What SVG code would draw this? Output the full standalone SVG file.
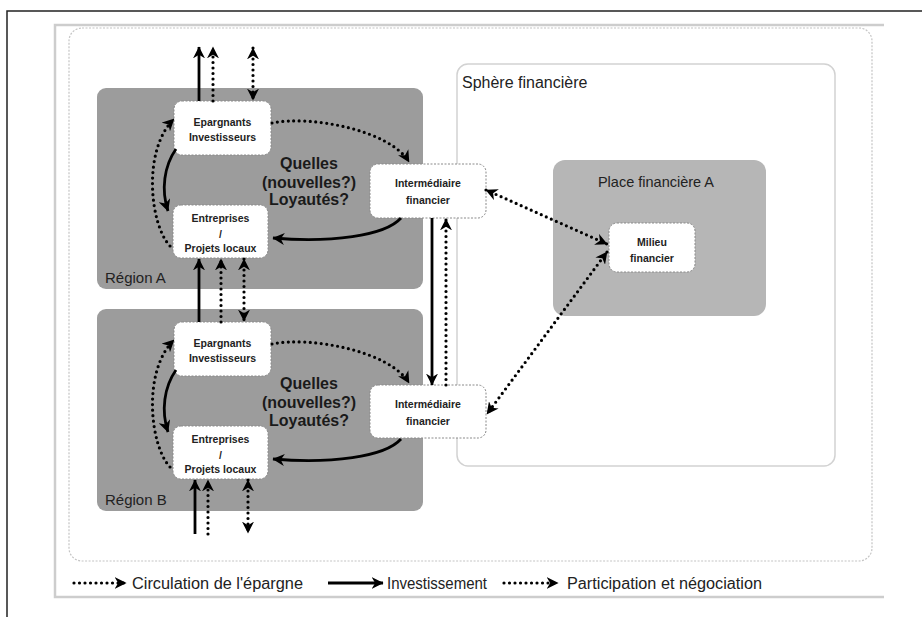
<svg xmlns="http://www.w3.org/2000/svg" width="922" height="617" viewBox="0 0 922 617">
<defs>
<style>
.frame{fill:none;stroke:#222;stroke-width:1.5}
.outer{fill:none;stroke:#cdcdcd;stroke-width:2.5}
.inner{fill:#fff;stroke:#c4c4c4;stroke-width:1.2;stroke-dasharray:2 1.5}
.region{fill:#9c9c9c}
.place{fill:#b6b6b6}
.sphere{fill:#fff;stroke:#d2d2d2;stroke-width:1.5}
.node{fill:#fff;stroke:#8a8a8a;stroke-width:1;stroke-dasharray:2 1.5}
.nt{font-family:"Liberation Sans",Arial,sans-serif;font-size:10.5px;font-weight:bold;fill:#222;text-anchor:middle}
.q{font-family:"Liberation Sans",Arial,sans-serif;font-size:16px;font-weight:bold;fill:#1a1a1a;text-anchor:middle}
.lbl{font-family:"Liberation Sans",Arial,sans-serif;fill:#222}
.leg{font-family:"Liberation Sans",Arial,sans-serif;font-size:16px;fill:#222}
.solid{fill:none;stroke:#000;stroke-width:2.8}
.dot{fill:none;stroke:#000;stroke-width:3.2;stroke-linecap:round;stroke-dasharray:0 5.5}
</style>
<marker id="ah" viewBox="0 0 10 10" refX="9.5" refY="5" markerWidth="12" markerHeight="12" markerUnits="userSpaceOnUse" orient="auto-start-reverse">
<path d="M0,0 L10,5 L0,10 L3,5 z" fill="#000"/>
</marker>
</defs>

<g id="page-frame">
<path class="frame" d="M7,617 L7,11 L922,11"/>
<path class="outer" d="M884,25 L55,25 L55,597 L884,597"/>
<rect class="inner" x="69" y="28" width="803" height="533" rx="13"/>
</g>

<g id="region-a">
<rect class="region" x="97" y="88" width="326" height="201" rx="9"/>
<text class="lbl" x="105" y="283" font-size="15">Région A</text>
</g>
<g id="region-b">
<rect class="region" x="97" y="309" width="326" height="202" rx="9"/>
<text class="lbl" x="105" y="505" font-size="15">Région B</text>
</g>

<g id="sphere-financiere">
<rect class="sphere" x="457" y="64" width="378" height="402" rx="11"/>
<text class="lbl" x="462" y="88" font-size="16">Sphère financière</text>
</g>
<g id="place-financiere-a">
<rect class="place" x="553" y="160" width="213" height="156" rx="12"/>
<text class="lbl" x="656" y="187" font-size="14.5" text-anchor="middle">Place financière A</text>
</g>

<g id="epargnants-a">
<rect class="node" x="174" y="101" width="97" height="54" rx="8"/>
<text class="nt" x="222.5" y="126">Epargnants</text>
<text class="nt" x="222.5" y="141">Investisseurs</text>
</g>
<g id="entreprises-a">
<rect class="node" x="173" y="205" width="95" height="53" rx="8"/>
<text class="nt" x="220.5" y="222">Entreprises</text>
<text class="nt" x="220.5" y="238">/</text>
<text class="nt" x="220.5" y="252">Projets locaux</text>
</g>
<g id="intermediaire-a">
<rect class="node" x="370" y="164" width="116" height="54" rx="8"/>
<text class="nt" x="428" y="187">Intermédiaire</text>
<text class="nt" x="428" y="204">financier</text>
</g>
<g id="loyautes-a">
<text class="q" x="309" y="169">Quelles</text>
<text class="q" x="309" y="187.5">(nouvelles?)</text>
<text class="q" x="309" y="205">Loyautés?</text>
</g>

<g id="epargnants-b">
<rect class="node" x="174" y="322" width="97" height="54" rx="8"/>
<text class="nt" x="222.5" y="347">Epargnants</text>
<text class="nt" x="222.5" y="362">Investisseurs</text>
</g>
<g id="entreprises-b">
<rect class="node" x="173" y="426" width="95" height="53" rx="8"/>
<text class="nt" x="220.5" y="443">Entreprises</text>
<text class="nt" x="220.5" y="459">/</text>
<text class="nt" x="220.5" y="473">Projets locaux</text>
</g>
<g id="intermediaire-b">
<rect class="node" x="370" y="385" width="116" height="53" rx="8"/>
<text class="nt" x="428" y="408">Intermédiaire</text>
<text class="nt" x="428" y="425">financier</text>
</g>
<g id="loyautes-b">
<text class="q" x="309" y="389">Quelles</text>
<text class="q" x="309" y="408">(nouvelles?)</text>
<text class="q" x="309" y="426">Loyautés?</text>
</g>

<g id="milieu-financier">
<rect class="node" x="609" y="223" width="86" height="49" rx="8"/>
<text class="nt" x="652" y="246">Milieu</text>
<text class="nt" x="652" y="262">financier</text>
</g>

<g id="connectors">
<!-- Region A outgoing top -->
<path class="solid" d="M199,101 L199,47" marker-end="url(#ah)"/>
<path class="dot" d="M213,101 L213,47" marker-end="url(#ah)"/>
<path class="dot" d="M253,48 L253,100" marker-start="url(#ah)" marker-end="url(#ah)"/>
<!-- Between regions -->
<path class="solid" d="M199,322 L199,259" marker-end="url(#ah)"/>
<path class="dot" d="M221,322 L221,259" marker-end="url(#ah)"/>
<path class="dot" d="M244,259 L244,321" marker-start="url(#ah)" marker-end="url(#ah)"/>
<!-- Region B incoming bottom -->
<path class="solid" d="M195,534 L195,480" marker-end="url(#ah)"/>
<path class="dot" d="M208,534 L208,480" marker-end="url(#ah)"/>
<path class="dot" d="M248,480 L248,533" marker-start="url(#ah)" marker-end="url(#ah)"/>
<!-- Region A loops -->
<path class="dot" d="M170,246 C150,225 142,150 174,119" marker-end="url(#ah)"/>
<path class="solid" d="M176,149 C164,166 161,190 168,211" marker-end="url(#ah)"/>
<path class="dot" d="M272,123 C310,115 390,130 409,162" marker-end="url(#ah)"/>
<path class="solid" d="M401,218 C385,236 330,243 273,238" marker-end="url(#ah)"/>
<!-- Region B loops -->
<path class="dot" d="M170,467 C150,446 142,371 174,340" marker-end="url(#ah)"/>
<path class="solid" d="M176,370 C164,387 161,411 168,432" marker-end="url(#ah)"/>
<path class="dot" d="M272,344 C310,336 390,351 409,383" marker-end="url(#ah)"/>
<path class="solid" d="M401,439 C385,457 330,464 273,459" marker-end="url(#ah)"/>
<!-- Between intermediaries -->
<path class="solid" d="M432,218 L432,385" marker-end="url(#ah)"/>
<path class="dot" d="M446,385 L446,219" marker-end="url(#ah)"/>
<!-- To milieu financier -->
<path class="dot" d="M486,190 L607,244" marker-start="url(#ah)" marker-end="url(#ah)"/>
<path class="dot" d="M607,252 L487,414" marker-start="url(#ah)" marker-end="url(#ah)"/>
</g>

<g id="legend">
<path class="dot" d="M74,583 L126,583" marker-end="url(#ah)"/>
<text class="leg" x="132" y="589" textLength="171" lengthAdjust="spacingAndGlyphs">Circulation de l'épargne</text>
<path class="solid" d="M328,583 L383,583" marker-end="url(#ah)"/>
<text class="leg" x="387" y="589" textLength="100" lengthAdjust="spacingAndGlyphs">Investissement</text>
<path class="dot" d="M504,583 L558,583" marker-end="url(#ah)"/>
<text class="leg" x="567" y="589" textLength="195" lengthAdjust="spacingAndGlyphs">Participation et négociation</text>
</g>
</svg>
